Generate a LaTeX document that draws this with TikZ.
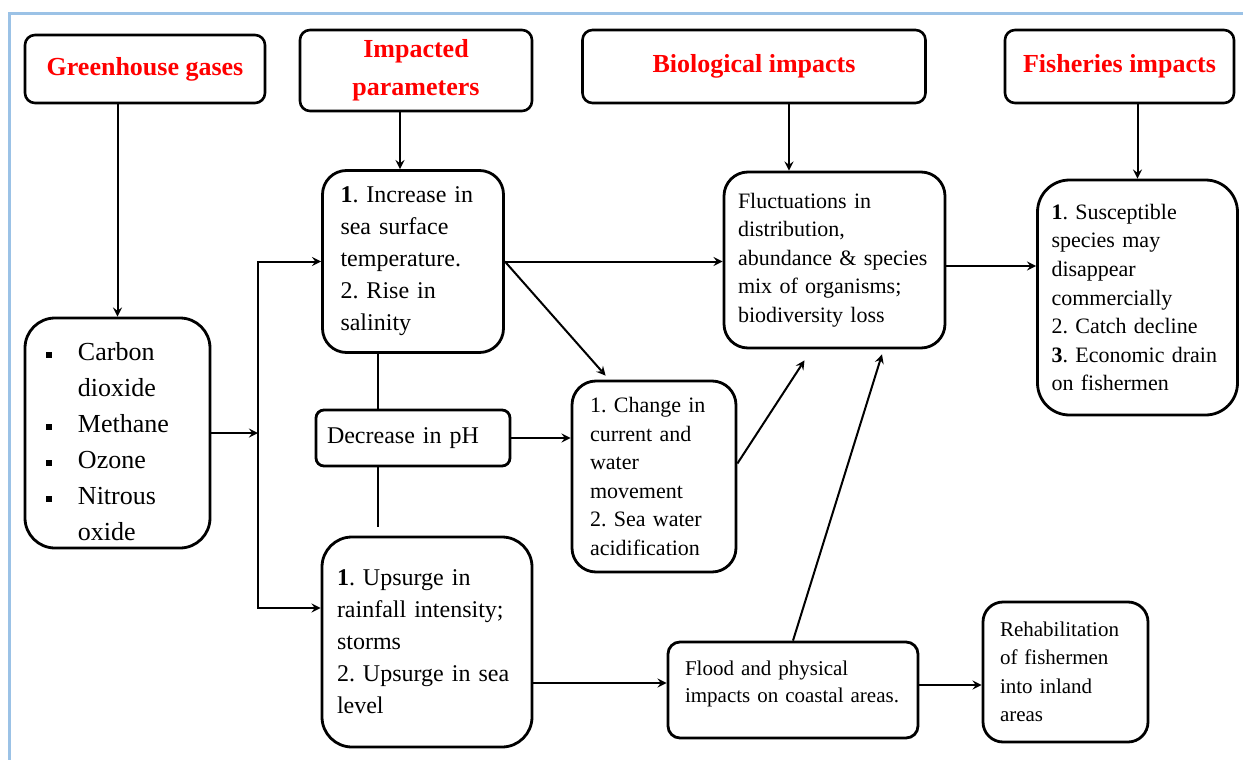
\documentclass[tikz,border=0pt]{standalone}
\usepackage{fontspec}
\setmainfont{Liberation Serif}
\usetikzlibrary{calc}
\frenchspacing
\definecolor{frameblue}{RGB}{155,194,230}
\newcommand{\gasbullet}{\makebox[16pt][l]{\rule[1.5pt]{3pt}{3pt}}}
\newcommand{\gasindent}{\hspace*{16pt}}

\begin{document}
\begin{tikzpicture} [-> , >= stealth, line width = 1pt, x = 0.5pt, y = -0.5pt,
  head/.style = {draw, rounded corners = 5pt, line width = 1.3pt, align = center, text = red, font = \fontsize{13}{19}\selectfont\bfseries},
  box/.style = {draw, line width = 1.4pt, align = left, inner ysep = 3pt}]

\useasboundingbox (0,0) rectangle (1243,760);
\draw [-, frameblue, line width = 1.5pt] (9,760) -- (9,13) -- (1243,13);

% headings
\node [head, minimum width = 120pt, minimum height = 34pt] (ghg) at (145,69) {Greenhouse gases};
\node [head, minimum width = 116pt, minimum height = 40.5pt] (imp) at (416,70.5) {Impacted\\parameters};
\node [head, minimum width = 171.5pt, minimum height = 36.5pt] (bio) at (754,66.5) {Biological impacts};
\node [head, minimum width = 114.5pt, minimum height = 36.5pt] (fish) at (1119.5,66.5) {Fisheries impacts};

% boxes
\node [box, rounded corners = 15pt, text width = 71.5pt, inner xsep = 10.5pt, minimum height = 115pt, text height = 18pt, font = \fontsize{13}{18}\selectfont] (gas) at (117.5,433) {\gasbullet Carbon\\ \gasindent dioxide\\ \gasbullet Methane\\ \gasbullet Ozone\\ \gasbullet Nitrous\\ \gasindent oxide};
\node [box, rounded corners = 12pt, text width = 72.5pt, inner xsep = 9pt, minimum height = 91pt, font = \fontsize{12}{16}\selectfont] (sst) at (413,261.5) {\textbf{1}. Increase in\\sea surface\\temperature.\\2. Rise in\\salinity};
\node [box, rounded corners = 4pt, text width = 86pt, inner xsep = 5.5pt, minimum height = 28pt, font = \fontsize{12}{16}\selectfont] (ph) at (413,438) {Decrease in pH};
\node [box, rounded corners = 12pt, text width = 64pt, inner xsep = 9pt, minimum height = 95.5pt, font = \fontsize{11}{14.3}\selectfont] (chg) at (654,476.5) {1. Change in\\current and\\water\\movement\\2. Sea water\\acidification};
\node [box, rounded corners = 15pt, text width = 90pt, inner xsep = 7.5pt, minimum height = 105pt, font = \fontsize{12}{16}\selectfont] (ups) at (427,642) {\textbf{1}. Upsurge in\\rainfall~intensity;\\storms\\2.~Upsurge~in~sea\\level};
\node [box, rounded corners = 12pt, text width = 96.5pt, inner xsep = 7pt, minimum height = 88pt, font = \fontsize{11}{14.3}\selectfont] (flu) at (834.5,260) {Fluctuations in\\distribution,\\abundance~\&~species\\mix of organisms;\\biodiversity loss};
\node [box, rounded corners = 16pt, text width = 86pt, inner xsep = 7pt, minimum height = 117.5pt, font = \fontsize{11}{14.3}\selectfont] (sus) at (1137.5,297.5) {\textbf{1}. Susceptible\\species may\\disappear\\commercially\\2.~Catch~decline\\\textbf{3}.~Economic~drain\\on fishermen};
\node [box, rounded corners = 6pt, text width = 108pt, inner xsep = 8.5pt, minimum height = 48pt, text depth = 22pt, font = \fontsize{10.5}{13.5}\selectfont] (fld) at (793,690) {Flood and physical\\impacts~on~coastal~areas.};
\node [box, rounded corners = 10pt, text width = 65.5pt, inner xsep = 8.5pt, minimum height = 70pt, font = \fontsize{10.5}{14.2}\selectfont] (reh) at (1065.5,672) {Rehabilitation\\of fishermen\\into inland\\areas};

% end points
\coordinate (trunk) at (258,435);
\coordinate (trunkbot) at (258,608);
\coordinate (impout) at ([xshift=-8pt]imp.south);
\coordinate (bioout) at ([xshift=17.5pt]bio.south);
\coordinate (chgin) at ([xshift=17.5pt,yshift=2pt]chg.north west);
\coordinate (chgout) at ([yshift=6.5pt]chg.east);
\coordinate (phlink) at ([xshift=-17.5pt]ph.north);
\coordinate (fluinchg) at ([xshift=-15pt,yshift=-5.5pt]flu.south);
\coordinate (fluinfld) at ([xshift=23.75pt,yshift=-2.5pt]flu.south);
\coordinate (fluout) at ([yshift=-3pt]flu.east);
\coordinate (fldin) at ([yshift=3.5pt]fld.west);
\coordinate (fldout) at ([yshift=2.5pt]fld.east);

\path (ghg.south -| gas.north) edge (gas.north);
\path (impout) edge (impout |- sst.north);
\path (bioout) edge (bioout |- flu.north);
\path (sus.north |- fish.south) edge (sus.north);

\draw (gas.east) -- (gas.east -| trunk);
\draw [<->] (trunkbot -| ups.west) -- (trunkbot) -- (trunk |- sst.west) -- (sst.west);

\path (sst.east) edge (sst.east -| flu.west);
\path (sst.east) edge (chgin);
\draw [-] (phlink |- sst.south) -- (phlink);
\draw [-, shorten >= 4.5pt] (phlink |- ph.south) -- (phlink |- ups.north);
\path (ph.east) edge (ph.east -| chg.west);
\path (chgout) edge (fluinchg);
\path (fld.north) edge (fluinfld);
\path (fluout) edge (fluout -| sus.west);
\path (fldin -| ups.east) edge (fldin);
\path (fldout) edge (fldout -| reh.west);

\end{tikzpicture}
\end{document}
